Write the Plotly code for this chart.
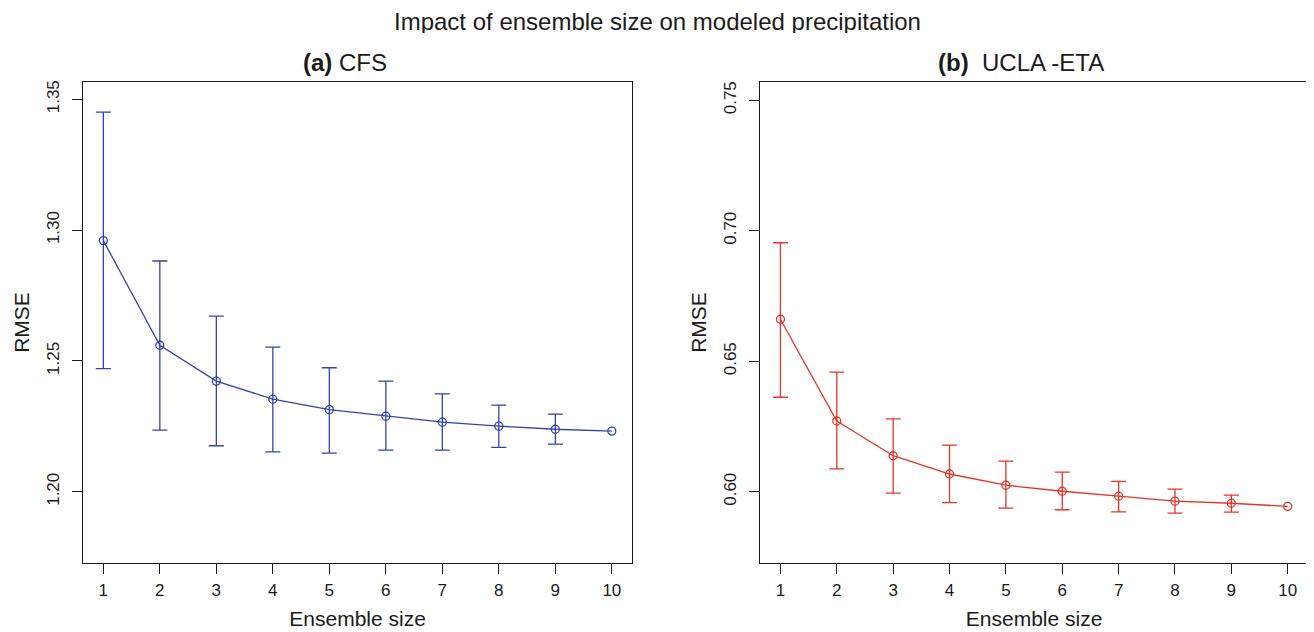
import plotly.graph_objects as go

ens = [1, 2, 3, 4, 5, 6, 7, 8, 9, 10]
cfs_mean = [1.2960, 1.2560, 1.2423, 1.2354, 1.2314, 1.2289, 1.2266, 1.2251, 1.2239, 1.2232]
cfs_upper = [1.3451, 1.2882, 1.2671, 1.2553, 1.2474, 1.2423, 1.2374, 1.2331, 1.2297]
cfs_lower = [1.2471, 1.2236, 1.2176, 1.2153, 1.2148, 1.2159, 1.2159, 1.2170, 1.2182]
eta_mean = [0.6661, 0.6271, 0.6138, 0.6068, 0.6025, 0.6002, 0.5983, 0.5964, 0.5956, 0.5944]
eta_upper = [0.6954, 0.6458, 0.6279, 0.6179, 0.6117, 0.6075, 0.6040, 0.6010, 0.5987]
eta_lower = [0.6362, 0.6088, 0.5995, 0.5958, 0.5937, 0.5931, 0.5923, 0.5918, 0.5922]
x_ticks = [1, 2, 3, 4, 5, 6, 7, 8, 9, 10]
cfs_yticks = [1.20, 1.25, 1.30, 1.35]
eta_yticks = [0.60, 0.65, 0.70, 0.75]

BLUE = "#3444A6"
RED = "#E5352B"
INK = "#1a1a1a"
FONT = "Liberation Sans, Arial, sans-serif"

# page body has an 8px margin: the figure starts at (8, 8) of the window
OFF = 8
W, H = 1314 - OFF, 632 - OFF
ML, MR, MT, MB = 82.7 - OFF, 6, 82 - OFF, 632 - 563
PW = W - ML - MR
PH = H - MT - MB


def px_x(px):
    return (px - OFF - ML) / PW


def px_y(py):
    return (H - MB - (py - OFF)) / PH


fig = go.Figure()


def add_panel(mean, upper, lower, color, xa, ya):
    n = len(upper)
    plus = [u - m for u, m in zip(upper, mean[:n])]
    minus = [m - l for m, l in zip(mean[:n], lower)]
    fig.add_trace(go.Scatter(
        x=ens[:n], y=mean[:n], mode="markers",
        marker=dict(size=2, color="rgba(0,0,0,0)"),
        error_y=dict(type="data", symmetric=False, array=plus, arrayminus=minus,
                     color=color, thickness=1.3, width=7.5),
        xaxis=xa, yaxis=ya, showlegend=False, hoverinfo="skip"))
    fig.add_trace(go.Scatter(
        x=ens, y=mean, mode="lines+markers",
        line=dict(color=color, width=1.3),
        marker=dict(symbol="circle-open", size=8, color=color, line=dict(width=1.3)),
        xaxis=xa, yaxis=ya, showlegend=False))


add_panel(cfs_mean, cfs_upper, cfs_lower, BLUE, "x", "y")
add_panel(eta_mean, eta_upper, eta_lower, RED, "x2", "y2")

axis_common = dict(showline=True, linecolor=INK, linewidth=1.3, mirror=True,
                   ticks="outside", ticklen=10, tickwidth=1.3, tickcolor=INK,
                   showgrid=False, zeroline=False, automargin=False,
                   tickfont=dict(family=FONT, size=17, color=INK))
xcommon = dict(axis_common, range=[0.64, 10.36], tickvals=x_ticks, ticklabelstandoff=1,
               title=dict(text="Ensemble size", font=dict(family=FONT, size=21, color=INK), standoff=12))
ycommon = dict(axis_common, domain=[0, 1], tickangle=-90, ticklabelstandoff=6)

fig.update_layout(
    width=W, height=H,
    paper_bgcolor="white", plot_bgcolor="white",
    margin=dict(l=ML, r=MR, t=MT, b=MB),
    font=dict(family=FONT, color=INK),
    xaxis=dict(xcommon, domain=[0, px_x(632)], anchor="y"),
    xaxis2=dict(xcommon, domain=[px_x(760), 1], anchor="y2"),
    yaxis=dict(ycommon, anchor="x", range=[1.1728, 1.3566],
               tickvals=cfs_yticks, ticktext=["%.2f" % v for v in cfs_yticks],
               title=dict(text="RMSE", font=dict(family=FONT, size=21, color=INK), standoff=8)),
    yaxis2=dict(ycommon, anchor="x2", range=[0.5727, 0.7570],
                tickvals=eta_yticks, ticktext=["%.2f" % v for v in eta_yticks],
                title=dict(text="RMSE", font=dict(family=FONT, size=21, color=INK), standoff=8)),
    annotations=[
        dict(text="Impact of ensemble size on modeled precipitation", x=px_x(657), y=px_y(21),
             xref="paper", yref="paper", showarrow=False, xanchor="center", yanchor="middle",
             height=24, font=dict(family=FONT, size=24, color=INK)),
        dict(text="<b>(a)</b> CFS", x=px_x(345), y=px_y(62),
             xref="paper", yref="paper", showarrow=False, xanchor="center", yanchor="middle",
             font=dict(family=FONT, size=24, color=INK)),
        dict(text="<b>(b)</b>  UCLA -ETA", x=px_x(1021), y=px_y(62),
             xref="paper", yref="paper", showarrow=False, xanchor="center", yanchor="middle",
             font=dict(family=FONT, size=24, color=INK)),
    ],
)

fig.write_html("out.html")
